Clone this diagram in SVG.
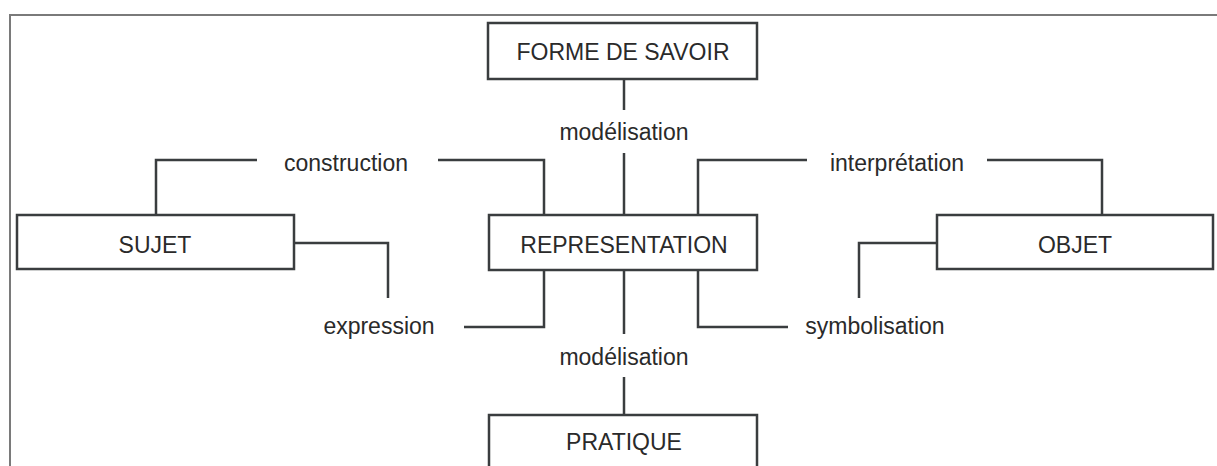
<svg xmlns="http://www.w3.org/2000/svg" width="1217" height="466" viewBox="0 0 1217 466">
<style>
.box{fill:#fff;stroke:#3a3d3f;stroke-width:2.5}
.c{fill:none;stroke:#3a3d3f;stroke-width:2.5}
.t{font-family:"Liberation Sans",Arial,sans-serif;font-size:23px;fill:#2a2a2a;text-anchor:middle}
.frame{fill:none;stroke:#7a7a7a;stroke-width:2}
</style>
<rect width="1217" height="466" fill="#fff"/>
<path class="frame" d="M10,466 V15 H1217"/>
<g id="connectors">
<path class="c" d="M624,79 V110"/>
<path class="c" d="M624,153 V215"/>
<path class="c" d="M624,270 V334"/>
<path class="c" d="M624,377 V415"/>
<path class="c" d="M156,215 V160 H257"/>
<path class="c" d="M438,160 H544 V215"/>
<path class="c" d="M698,215 V160 H807"/>
<path class="c" d="M987,160 H1102 V215"/>
<path class="c" d="M294,243 H388 V298"/>
<path class="c" d="M464,327 H544 V270"/>
<path class="c" d="M937,243 H859 V298"/>
<path class="c" d="M788,327 H698 V270"/>
<text class="t" x="624" y="140">modélisation</text>
<text class="t" x="624" y="365">modélisation</text>
<text class="t" x="346" y="171">construction</text>
<text class="t" x="897" y="171">interprétation</text>
<text class="t" x="379" y="334">expression</text>
<text class="t" x="875" y="334">symbolisation</text>
</g>
<g id="forme">
<rect class="box" x="488" y="23" width="269" height="56"/>
<text class="t" x="623" y="60">FORME DE SAVOIR</text>
</g>
<g id="sujet">
<rect class="box" x="17" y="215" width="277" height="54"/>
<text class="t" x="155" y="253">SUJET</text>
</g>
<g id="representation">
<rect class="box" x="489" y="215" width="268" height="55"/>
<text class="t" x="624" y="253">REPRESENTATION</text>
</g>
<g id="objet">
<rect class="box" x="937" y="215" width="276" height="54"/>
<text class="t" x="1075" y="253">OBJET</text>
</g>
<g id="pratique">
<rect class="box" x="489" y="415" width="268" height="60"/>
<text class="t" x="624" y="450">PRATIQUE</text>
</g>
</svg>
